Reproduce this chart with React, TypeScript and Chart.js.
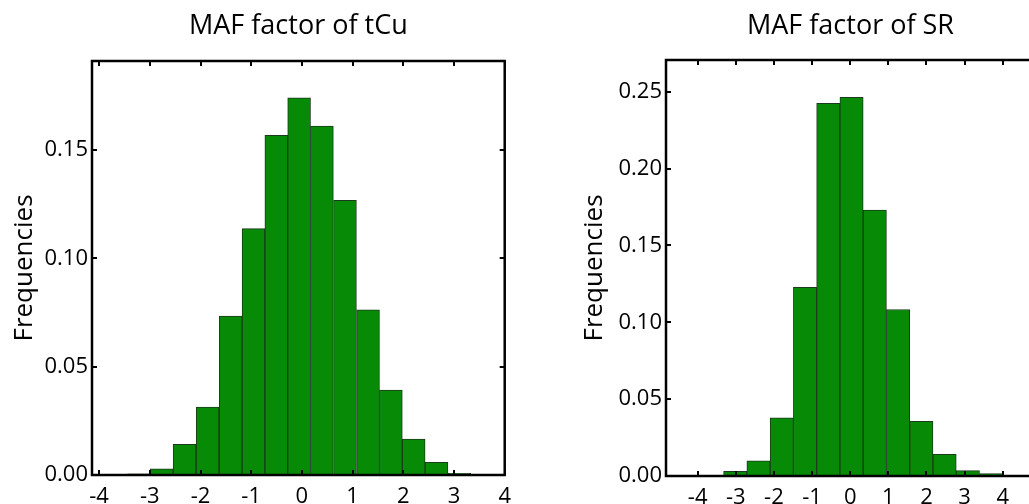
import React, { useEffect, useRef } from "react";
import { Chart, registerables } from "chart.js";

Chart.register(...registerables);

// ---- data ----
const tcuTitle = "MAF factor of tCu";
const srTitle = "MAF factor of SR";
const yAxisLabel = "Frequencies";

const tcuEdges = [-3.44, -2.99, -2.54, -2.09, -1.63, -1.18, -0.73, -0.28, 0.17, 0.62, 1.08, 1.53, 1.98, 2.43, 2.88, 3.33];
const tcuFreq = [0.0005, 0.0028, 0.0142, 0.0314, 0.0734, 0.1138, 0.1569, 0.1742, 0.1611, 0.1269, 0.0763, 0.0392, 0.0166, 0.0058, 0.0008];

const srEdges = [-3.93, -3.32, -2.71, -2.1, -1.49, -0.88, -0.27, 0.34, 0.95, 1.56, 2.17, 2.78, 3.39, 4.0];
const srFreq = [0.0005, 0.003, 0.0098, 0.0378, 0.1228, 0.2424, 0.2463, 0.173, 0.1083, 0.0356, 0.0141, 0.0035, 0.0016];

const xTickValues = [-4, -3, -2, -1, 0, 1, 2, 3, 4];
const tcuYTicks = [0, 0.05, 0.1, 0.15];
const srYTicks = [0, 0.05, 0.1, 0.15, 0.2, 0.25];

const FONT = "'Open Sans', 'DejaVu Sans', sans-serif";
const BAR_FILL = "#078b07";
const BAR_EDGE = "#1c3a1c";

type Cfg = {
  title: string;
  edges: number[];
  freq: number[];
  yTicks: number[];
  xMin: number;
  xMax: number;
  yMax: number;
  yAxisWidth: number;
  yTitlePad: number;
  padRight: number;
  titlePadTop: number;
  titlePadBottom: number;
  xAxisHeight: number;
};

const boxPlugin = {
  id: "boxTicks",
  afterDatasetsDraw(chart: any) {
    const { ctx, chartArea: a, scales } = chart;
    const x = scales.x;
    const y = scales.y;
    ctx.save();
    ctx.strokeStyle = "#000";
    ctx.lineWidth = 2;
    ctx.beginPath();
    const L = 5;
    x.ticks.forEach((t: any) => {
      const px = Math.round(x.getPixelForValue(t.value));
      ctx.moveTo(px, a.bottom);
      ctx.lineTo(px, a.bottom - L);
      ctx.moveTo(px, a.top);
      ctx.lineTo(px, a.top + L);
    });
    y.ticks.forEach((t: any) => {
      const py = Math.round(y.getPixelForValue(t.value));
      ctx.moveTo(a.left, py);
      ctx.lineTo(a.left + L, py);
      ctx.moveTo(a.right, py);
      ctx.lineTo(a.right - L, py);
    });
    ctx.stroke();
    ctx.lineWidth = 2.5;
    ctx.strokeRect(a.left, a.top, a.right - a.left, a.bottom - a.top);
    ctx.restore();
  },
};

function makeChart(canvas: HTMLCanvasElement, c: Cfg) {
  const points = c.freq.map((f, i) => ({ x: (c.edges[i] + c.edges[i + 1]) / 2, y: f }));
  return new Chart(canvas, {
    type: "bar",
    data: {
      datasets: [
        {
          data: points as any,
          backgroundColor: BAR_FILL,
          borderColor: BAR_EDGE,
          borderWidth: 1,
          barPercentage: 1,
          categoryPercentage: 1,
          borderSkipped: false,
        },
      ],
    },
    options: {
      animation: false,
      responsive: false,
      devicePixelRatio: 1,
      layout: { padding: { left: 0, right: c.padRight, top: 0, bottom: 0 } },
      plugins: {
        legend: { display: false },
        tooltip: { enabled: false },
        title: {
          display: true,
          text: c.title,
          color: "#000",
          fullSize: false,
          font: { family: FONT, size: 27, weight: "normal", lineHeight: 1.2 },
          padding: { top: c.titlePadTop, bottom: c.titlePadBottom },
        },
      },
      scales: {
        x: {
          type: "linear",
          min: c.xMin,
          max: c.xMax,
          offset: false,
          grid: { display: false, drawTicks: false },
          border: { display: false },
          ticks: {
            color: "#000",
            padding: 9,
            maxRotation: 0,
            autoSkip: false,
            font: { family: FONT, size: 22 },
            callback: (v: any) => String(v),
          },
          afterBuildTicks: (s: any) => {
            s.ticks = xTickValues.map((v) => ({ value: v }));
          },
          afterFit: (s: any) => {
            s.height = c.xAxisHeight;
          },
        },
        y: {
          type: "linear",
          min: 0,
          max: c.yMax,
          grid: { display: false, drawTicks: false },
          border: { display: false },
          title: {
            display: true,
            text: yAxisLabel,
            color: "#000",
            font: { family: FONT, size: 26, lineHeight: 1.2 },
            padding: { top: c.yTitlePad, bottom: 0 },
          },
          ticks: {
            color: "#000",
            padding: 4,
            autoSkip: false,
            font: { family: FONT, size: 22 },
            callback: (v: any) => Number(v).toFixed(2),
          },
          afterBuildTicks: (s: any) => {
            s.ticks = c.yTicks.map((v) => ({ value: v }));
          },
          afterFit: (s: any) => {
            s.width = c.yAxisWidth;
          },
        },
      },
    } as any,
    plugins: [boxPlugin],
  });
}

export default function App() {
  const leftRef = useRef<HTMLCanvasElement>(null);
  const rightRef = useRef<HTMLCanvasElement>(null);

  useEffect(() => {
    const left = makeChart(leftRef.current!, {
      title: tcuTitle,
      edges: tcuEdges,
      freq: tcuFreq,
      yTicks: tcuYTicks,
      xMin: -4.14,
      xMax: 4.0,
      yMax: 0.1912,
      yAxisWidth: 92,
      yTitlePad: 8.6,
      padRight: 11,
      titlePadTop: 10.4,
      titlePadBottom: 18.2,
      xAxisHeight: 29,
    });
    const right = makeChart(rightRef.current!, {
      title: srTitle,
      edges: srEdges,
      freq: srFreq,
      yTicks: srYTicks,
      xMin: -4.83,
      xMax: 4.845,
      yMax: 0.2706,
      yAxisWidth: 146,
      yTitlePad: 58.6,
      padRight: 25,
      titlePadTop: 10.4,
      titlePadBottom: 17.2,
      xAxisHeight: 28,
    });
    return () => {
      left.destroy();
      right.destroy();
    };
  }, []);

  return (
    <div
      style={{
        position: "fixed",
        left: 0,
        top: 0,
        width: 1029,
        height: 504,
        overflow: "hidden",
        background: "#fff",
      }}
    >
      <canvas ref={leftRef} width={520} height={504} style={{ position: "absolute", left: 0, top: 0 }} />
      <canvas ref={rightRef} width={540} height={504} style={{ position: "absolute", left: 520, top: 0 }} />
    </div>
  );
}
